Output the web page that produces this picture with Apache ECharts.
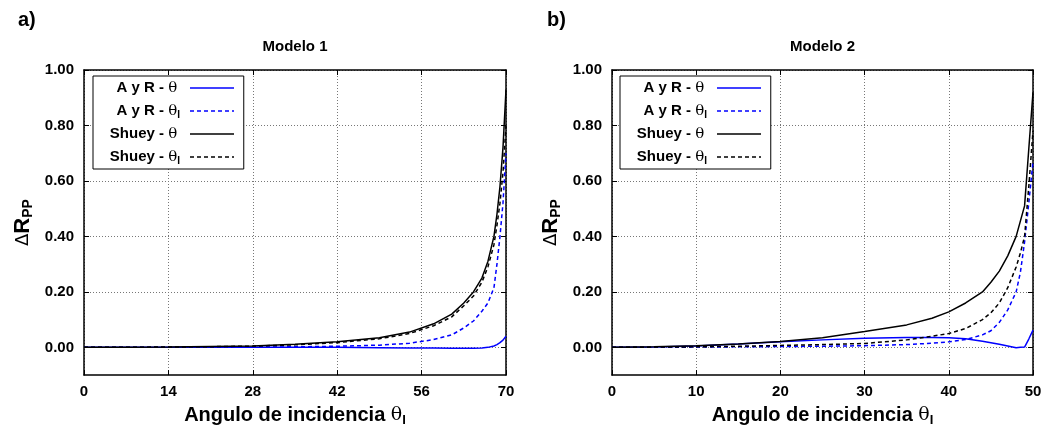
<!DOCTYPE html>
<html>
<head>
<meta charset="utf-8">
<script src="https://cdn.jsdelivr.net/npm/echarts@6/dist/echarts.min.js"></script>
<style>
html,body{margin:0;padding:0;background:#fff;}
#chart{width:1050px;height:432px;}
</style>
</head>
<body>
<div id="chart"></div>
<script>
// ---- Data ----
const panelLabels = ['a)', 'b)'];
const panelTitles = ['Modelo 1', 'Modelo 2'];
const seriesNames = ['AyR', 'AyR_I', 'Shuey', 'Shuey_I'];

const m1Angles  = [0, 7, 14, 21, 28, 35, 42, 49, 54, 58, 61, 63, 64.6, 66, 67, 68, 68.5, 69, 69.5, 70];
const m1AyR     = [0, 0, 0, 0, 0, 0, 0, -0.001, -0.002, -0.002, -0.003, -0.003, -0.003, -0.002, 0, 0.005, 0.01, 0.017, 0.026, 0.04];
const m1AyRI    = [0, 0, 0.0002, 0.0005, 0.001, 0.002, 0.004, 0.008, 0.015, 0.028, 0.045, 0.07, 0.095, 0.13, 0.16, 0.215, 0.30, 0.40, 0.52, 0.70];
const m1Shuey   = [0, 0.0005, 0.0015, 0.003, 0.005, 0.011, 0.02, 0.035, 0.055, 0.085, 0.12, 0.16, 0.2, 0.25, 0.31, 0.40, 0.48, 0.58, 0.72, 0.93];
const m1ShueyI  = [0, 0.0004, 0.0012, 0.0025, 0.0045, 0.009, 0.017, 0.031, 0.05, 0.078, 0.11, 0.15, 0.185, 0.235, 0.29, 0.37, 0.44, 0.52, 0.63, 0.80];

const m2Angles  = [0, 5, 10, 15, 20, 25, 30, 35, 38, 40, 42, 44, 45, 46, 47, 48, 48.5, 49, 49.5, 50];
const m2AyR     = [0, 0.001, 0.005, 0.012, 0.02, 0.027, 0.033, 0.036, 0.036, 0.035, 0.031, 0.022, 0.017, 0.011, 0.005, -0.001, 0, 0.001, 0.03, 0.062];
const m2AyRI    = [0, 0, 0.001, 0.002, 0.003, 0.004, 0.006, 0.01, 0.015, 0.02, 0.028, 0.045, 0.06, 0.09, 0.135, 0.20, 0.27, 0.38, 0.52, 0.67];
const m2Shuey   = [0, 0.002, 0.006, 0.012, 0.021, 0.035, 0.057, 0.081, 0.105, 0.128, 0.16, 0.2, 0.235, 0.275, 0.33, 0.40, 0.455, 0.51, 0.715, 0.92];
const m2ShueyI  = [0, 0.001, 0.002, 0.004, 0.007, 0.01, 0.014, 0.027, 0.04, 0.05, 0.068, 0.1, 0.125, 0.16, 0.215, 0.29, 0.34, 0.40, 0.58, 0.78];

const xMax = [70, 50];
const xStep = [14, 10];
const yTicks = [0, 0.2, 0.4, 0.6, 0.8, 1.0];
const yMin = -0.1, yMax = 1.0;

// ---- Styling ----
const FONT = 'Liberation Sans';
const BLUE = '#0000ff';
const BLACK = '#000000';
const seriesStyles = {
  AyR:     { color: BLUE,  type: 'solid' },
  AyR_I:   { color: BLUE,  type: [4, 3] },
  Shuey:   { color: BLACK, type: 'solid' },
  Shuey_I: { color: BLACK, type: [4, 3] }
};
const legendText = {
  AyR:     'A y R - {th|θ}{sub| }',
  AyR_I:   'A y R - {th|θ}{sub|I}',
  Shuey:   'Shuey - {th|θ}{sub| }',
  Shuey_I: 'Shuey - {th|θ}{sub|I}'
};

const grids = [
  { left: 84, top: 70, width: 422, height: 308 },
  { left: 612, top: 70, width: 421, height: 308 }
];

const axisLineStyle = { show: true, onZero: false, lineStyle: { color: BLACK, width: 1.5 } };
const tickStyle = { show: true, inside: true, length: 5, lineStyle: { color: BLACK, width: 1 } };
const gridLineStyle = { show: true, lineStyle: { color: '#777', width: 1, type: [1, 2] } };

const xAxes = [], yAxes = [];
grids.forEach((g, gi) => {
  xAxes.push({
    type: 'value', gridIndex: gi, min: 0, max: xMax[gi], interval: xStep[gi], position: 'bottom',
    axisLine: axisLineStyle, axisTick: tickStyle, splitLine: gridLineStyle,
    axisLabel: { margin: 9, color: BLACK, fontFamily: FONT, fontWeight: 'bold', fontSize: 15 },
    name: 'Angulo de incidencia {th|θ}{sub|I}', nameLocation: 'middle', nameGap: 24,
    nameTextStyle: {
      color: BLACK, fontFamily: FONT, fontWeight: 'bold', fontSize: 20, lineHeight: 21,
      rich: {
        th: { fontFamily: 'DejaVu Serif', fontWeight: 'normal', fontSize: 19, lineHeight: 21, color: BLACK },
        sub: { fontFamily: FONT, fontWeight: 'bold', fontSize: 13, lineHeight: 13, padding: [10, 0, 0, 0], color: BLACK }
      }
    }
  });
  xAxes.push({
    type: 'value', gridIndex: gi, min: 0, max: xMax[gi], interval: xStep[gi], position: 'top',
    axisLine: axisLineStyle, axisTick: tickStyle, splitLine: { show: false }, axisLabel: { show: false }
  });
  yAxes.push({
    type: 'value', gridIndex: gi, min: yMin, max: yMax, position: 'left',
    axisLine: axisLineStyle,
    axisTick: Object.assign({}, tickStyle, { customValues: yTicks }),
    splitLine: gridLineStyle,
    axisLabel: { customValues: yTicks, margin: 10, color: BLACK, fontFamily: FONT, fontWeight: 'bold', fontSize: 15,
                 formatter: v => v.toFixed(2) },
    name: '{d|Δ}R{sub|PP}', nameLocation: 'middle', nameGap: 50, nameRotate: 90,
    nameTextStyle: {
      color: BLACK, fontFamily: FONT, fontWeight: 'bold', fontSize: 22, lineHeight: 22,
      rich: {
        d: { fontFamily: 'DejaVu Sans', fontWeight: 'normal', fontSize: 18, lineHeight: 22, color: BLACK },
        sub: { fontFamily: FONT, fontWeight: 'bold', fontSize: 14, lineHeight: 14, padding: [10, 0, 0, 0], color: BLACK }
      }
    }
  });
  yAxes.push({
    type: 'value', gridIndex: gi, min: yMin, max: yMax, position: 'right',
    axisLine: axisLineStyle,
    axisTick: Object.assign({}, tickStyle, { customValues: yTicks }),
    splitLine: { show: false }, axisLabel: { show: false }
  });
});

const panelData = [
  { angles: m1Angles, AyR: m1AyR, AyR_I: m1AyRI, Shuey: m1Shuey, Shuey_I: m1ShueyI },
  { angles: m2Angles, AyR: m2AyR, AyR_I: m2AyRI, Shuey: m2Shuey, Shuey_I: m2ShueyI }
];

const series = [];
panelData.forEach((pd, gi) => {
  seriesNames.forEach(name => {
    const st = seriesStyles[name];
    series.push({
      name: name, type: 'line', xAxisIndex: gi * 2, yAxisIndex: gi * 2,
      data: pd.angles.map((a, i) => [a, pd[name][i]]),
      showSymbol: false, symbol: 'none', smooth: false, animation: false,
      lineStyle: { color: st.color, width: 1.5, type: st.type },
      itemStyle: { color: st.color }
    });
  });
});

const legendTextStyle = {
  color: BLACK, fontFamily: FONT, fontWeight: 'bold', fontSize: 15, lineHeight: 16,
  width: 80, padding: [0, 5, 0, 0],
  rich: {
    th: { fontFamily: 'DejaVu Serif', fontWeight: 'normal', fontSize: 15, lineHeight: 16, color: BLACK, align: 'right' },
    sub: { fontFamily: FONT, fontWeight: 'bold', fontSize: 10, lineHeight: 10, padding: [8, 0, 0, 0], color: BLACK, align: 'right' }
  }
};
const legends = [93, 620].map(l => ({
  data: seriesNames, orient: 'vertical', left: l, top: 76, align: 'right',
  itemWidth: 44, itemHeight: 14, itemGap: 5,
  padding: [3, 9, 3, 7], borderColor: BLACK, borderWidth: 1, backgroundColor: '#fff',
  formatter: n => legendText[n],
  textStyle: legendTextStyle, selectedMode: false,
  itemStyle: { opacity: 0 },
  lineStyle: { width: 1.5 }
}));

const titles = [];
panelTitles.forEach((t, i) => {
  titles.push({ text: t, left: grids[i].left + grids[i].width / 2, textAlign: 'center', top: 39, padding: 0,
    textStyle: { color: BLACK, fontFamily: FONT, fontWeight: 'bold', fontSize: 15 } });
});
panelLabels.forEach((t, i) => {
  titles.push({ text: t, left: [18, 547][i], top: 10, padding: 0,
    textStyle: { color: BLACK, fontFamily: FONT, fontWeight: 'bold', fontSize: 20 } });
});

const chart = echarts.init(document.getElementById('chart'), null, { renderer: 'canvas' });
chart.setOption({
  animation: false,
  backgroundColor: '#fff',
  title: titles,
  grid: grids,
  xAxis: xAxes,
  yAxis: yAxes,
  legend: legends,
  series: series
});
</script>
</body>
</html>
